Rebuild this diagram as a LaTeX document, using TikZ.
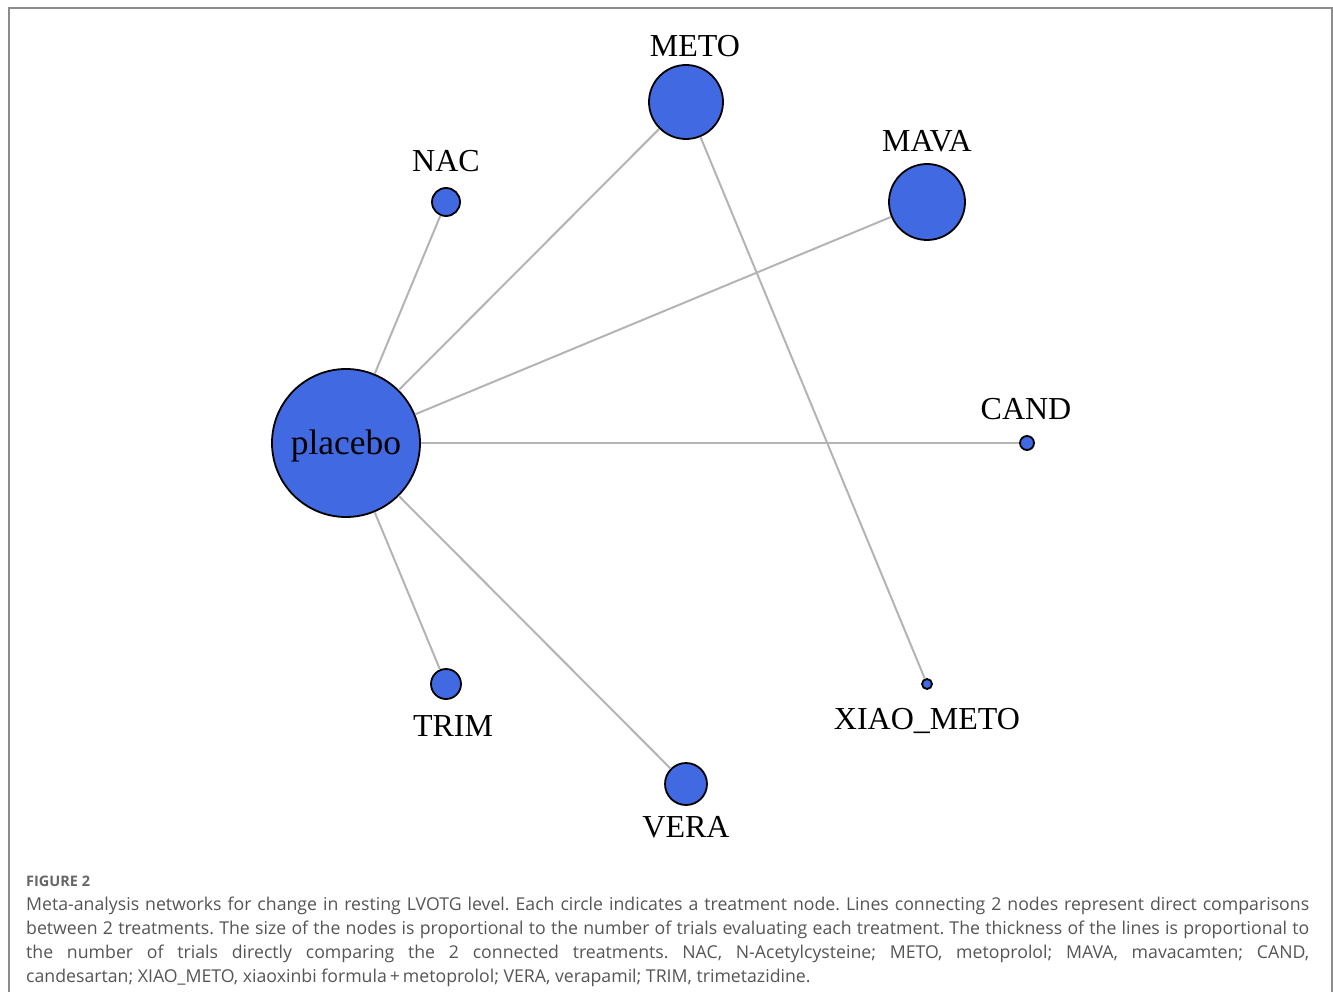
\documentclass[tikz,border=0pt]{standalone}
\usepackage{fontspec}
\setmainfont{Liberation Serif}
\newfontfamily\capfont{Open Sans}
\definecolor{nodeblue}{HTML}{4169E1}
\definecolor{edgegray}{HTML}{B4B4B4}
\definecolor{capgray}{HTML}{555555}
\definecolor{figgray}{HTML}{666666}
\definecolor{framegray}{HTML}{8C8C8C}
\begin{document}
\begin{tikzpicture}[x=1pt,y=-1pt,
  tnode/.style={circle,draw=black,line width=1.8pt,fill=nodeblue,inner sep=0pt,minimum size=#1},
  lab/.style={font=\fontsize{32}{35}\selectfont,text=black},
  edge/.style={draw=edgegray,line width=2pt}]
\useasboundingbox (0,0) rectangle (1333,992);
\draw[framegray,line width=1.5pt] (9,992) -- (9,8) -- (1332,8) -- (1332,992);
% nodes
\node[tnode=148pt] (placebo) at (346,443) {};
\node[tnode=74pt] (meto) at (686,102) {};
\node[tnode=76pt] (mava) at (927,202) {};
\node[tnode=28pt] (nac) at (446,202) {};
\node[tnode=14pt] (cand) at (1027,443) {};
\node[tnode=10pt] (xiao) at (927,684) {};
\node[tnode=30pt] (trim) at (446,684) {};
\node[tnode=42pt] (vera) at (686,784) {};
% edges
\path[edge] (placebo) -- (nac);
\path[edge] (placebo) -- (meto);
\path[edge] (placebo) -- (mava);
\path[edge] (placebo) -- (cand);
\path[edge] (placebo) -- (trim);
\path[edge] (placebo) -- (vera);
\path[edge] (meto) -- (xiao);
\node[font=\fontsize{35.5}{38}\selectfont] (placebotxt) at (346,446) {placebo};
% labels
\node[lab] (lmeto) at (695,46) {METO};
\node[lab] (lmava) at (927,141) {MAVA};
\node[lab] (lnac) at (446,161) {NAC};
\node[lab] (lcand) at (1026,409) {CAND};
\node[lab] (lxiao) at (927,721) {XIAO\_METO};
\node[lab] (ltrim) at (453,726) {TRIM};
\node[lab] (lvera) at (686,827) {VERA};
% caption
\node[anchor=base west,inner sep=0pt,text=figgray,font=\capfont\bfseries\fontsize{14.5}{18}\selectfont] (fig) at (26,886) {FIGURE 2};
\node[anchor=north west,inner sep=0pt,text=capgray,font=\capfont\fontsize{17.7}{24}\selectfont,text width=1283pt,align=justify] (cap) at (26,897)
{\frenchspacing Meta-analysis networks for change in resting LVOTG level. Each circle indicates a treatment node. Lines connecting 2 nodes represent direct comparisons\linebreak between 2 treatments. The size of the nodes is proportional to the number of trials evaluating each treatment. The thickness of the lines is proportional to\linebreak the number of trials directly comparing the 2 connected treatments. NAC, N-Acetylcysteine; METO, metoprolol; MAVA, mavacamten; CAND,\linebreak candesartan; XIAO\_METO, xiaoxinbi formula\,+\,metoprolol; VERA, verapamil; TRIM, trimetazidine.};
\end{tikzpicture}
\end{document}
